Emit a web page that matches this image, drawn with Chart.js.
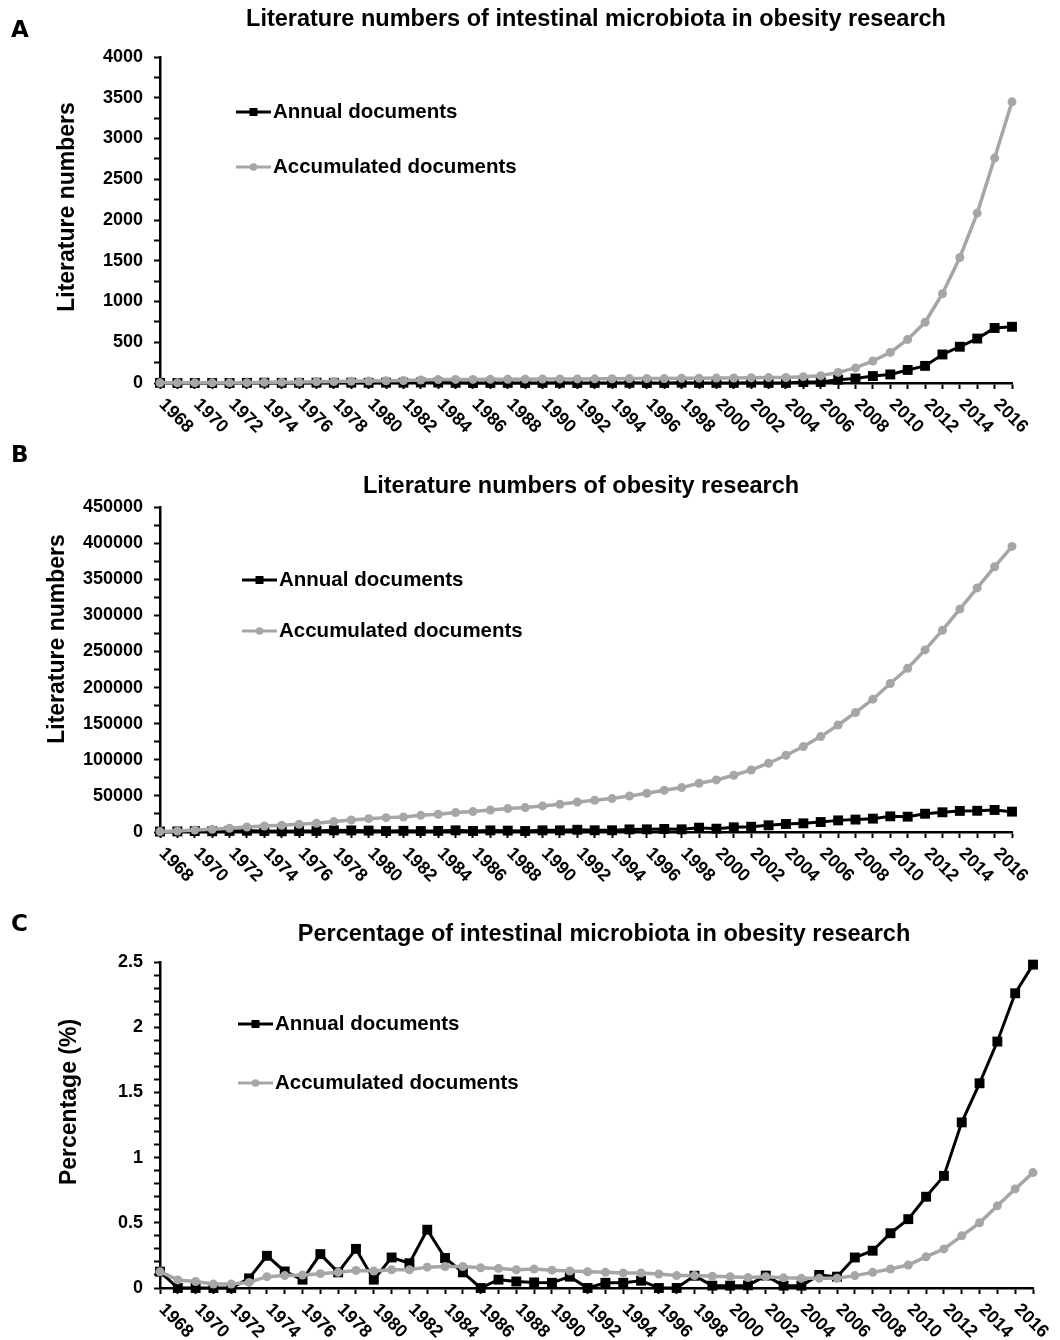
<!DOCTYPE html>
<html>
<head>
<meta charset="utf-8">
<title>Intestinal microbiota in obesity research</title>
<script src="https://cdn.jsdelivr.net/npm/chart.js@4.4.1/dist/chart.umd.min.js"></script>
<style>
    body { margin: 0; background: #fff; }
    #page { position: relative; width: 1060px; height: 1340px; }
    canvas { position: absolute; left: 0; }
</style>
</head>
<body>
<div id="page">
    <canvas id="chart-a" width="1060" height="440" style="top:0px"></canvas>
    <canvas id="chart-b" width="1060" height="455" style="top:440px"></canvas>
    <canvas id="chart-c" width="1060" height="445" style="top:895px"></canvas>
</div>
<script>
// Publication years (one point per year)
const years = ['1968','1969','1970','1971','1972','1973','1974','1975','1976','1977',
    '1978','1979','1980','1981','1982','1983','1984','1985','1986','1987',
    '1988','1989','1990','1991','1992','1993','1994','1995','1996','1997',
    '1998','1999','2000','2001','2002','2003','2004','2005','2006','2007',
    '2008','2009','2010','2011','2012','2013','2014','2015','2016','2017'];
// Years written under the x axis
const yearTicks = ['1968','1970','1972','1974','1976','1978','1980','1982','1984','1986',
    '1988','1990','1992','1994','1996','1998','2000','2002','2004','2006',
    '2008','2010','2012','2014','2016'];

// A - intestinal microbiota in obesity research
const microbiotaAnnual = [2, 0, 0, 0, 0, 2, 4, 2, 2, 4,
    2, 4, 2, 4, 3, 6, 5, 2, 0, 1,
    1, 1, 1, 2, 0, 1, 1, 2, 0, 0,
    4, 1, 1, 1, 4, 1, 1, 11, 12, 40,
    55, 85, 105, 160, 210, 350, 445, 545, 675, 690];
const microbiotaAccumulated = [2, 2, 2, 2, 2, 4, 8, 10, 12, 16,
    18, 22, 24, 28, 31, 37, 42, 44, 44, 45,
    46, 47, 48, 50, 50, 51, 52, 54, 54, 54,
    58, 59, 60, 61, 65, 66, 67, 78, 90, 130,
    185, 270, 375, 535, 745, 1095, 1540, 2085, 2760, 3450];

// B - obesity research
const obesityAnnual = [600, 800, 1300, 1000, 1500, 1700, 1400, 1000, 1300, 1500,
    2300, 2200, 1900, 1400, 1600, 1400, 1500, 2300, 1400, 2200,
    1900, 1400, 2300, 2300, 3100, 2400, 2400, 3600, 3700, 4200,
    3700, 6000, 4600, 6500, 7300, 9300, 11100, 12000, 13800, 16100,
    17200, 18500, 21700, 21200, 25300, 27300, 29200, 29400, 30500, 28200];
const obesityAccumulated = [600, 1400, 2700, 3700, 5200, 6900, 8300, 9300, 10600, 12100,
    14400, 16600, 18500, 19900, 20800, 23100, 24600, 26900, 28300, 30500,
    32400, 33800, 36100, 38400, 41500, 43900, 46300, 49900, 53600, 57800,
    61500, 67500, 72100, 78600, 85900, 95200, 106300, 118300, 132100, 148200,
    165400, 183900, 205600, 226800, 252100, 279400, 308600, 338000, 367200, 395400];

// C - percentage of microbiota papers in obesity research
const percentAnnual = [0.125, 0, 0, 0, 0, 0.074, 0.247, 0.127, 0.064, 0.26,
    0.12, 0.30, 0.064, 0.234, 0.19, 0.447, 0.23, 0.12, 0, 0.064,
    0.05, 0.043, 0.04, 0.087, 0, 0.04, 0.04, 0.056, 0, 0,
    0.094, 0.018, 0.018, 0.02, 0.095, 0.018, 0.018, 0.1, 0.087, 0.234,
    0.286, 0.42, 0.528, 0.70, 0.86, 1.27, 1.57, 1.89, 2.26, 2.48];
const percentAccumulated = [0.125, 0.062, 0.05, 0.03, 0.03, 0.043, 0.087, 0.095, 0.1, 0.11,
    0.12, 0.135, 0.13, 0.14, 0.14, 0.16, 0.165, 0.165, 0.155, 0.15,
    0.14, 0.145, 0.137, 0.13, 0.125, 0.12, 0.115, 0.115, 0.107, 0.095,
    0.095, 0.09, 0.087, 0.08, 0.087, 0.078, 0.074, 0.074, 0.074, 0.095,
    0.12, 0.146, 0.176, 0.24, 0.30, 0.40, 0.50, 0.63, 0.76, 0.885];

const seriesNames = ['Annual documents', 'Accumulated documents'];

const FONT = '"Liberation Sans", Arial, sans-serif';
const BLACK = '#000000';
const GREY = '#a6a6a6';

// Layout of each panel, in pixels relative to its canvas
const panels = [
    {
        canvas: 'chart-a', letter: 'A', letterY: 31,
        title: 'Literature numbers of intestinal microbiota in obesity research', titleX: 596, titleY: 20,
        yTitle: 'Literature numbers', yTitleX: 68, yTitleY: 207,
        legendX: 236, legendY: [112, 167],
        top: 57, bottom: 383, right: 1012,
        yMax: 4000, yStep: 250, yLabelStep: 500,
        annual: microbiotaAnnual, accumulated: microbiotaAccumulated
    },
    {
        canvas: 'chart-b', letter: 'B', letterY: 16,
        title: 'Literature numbers of obesity research', titleX: 581, titleY: 47,
        yTitle: 'Literature numbers', yTitleX: 58, yTitleY: 199,
        legendX: 242, legendY: [140, 191],
        top: 67, bottom: 392, right: 1012,
        yMax: 450000, yStep: 25000, yLabelStep: 50000,
        annual: obesityAnnual, accumulated: obesityAccumulated
    },
    {
        canvas: 'chart-c', letter: 'C', letterY: 30,
        title: 'Percentage of intestinal microbiota in obesity research', titleX: 604, titleY: 40,
        yTitle: 'Percentage (%)', yTitleX: 70, yTitleY: 207,
        legendX: 238, legendY: [129, 188],
        top: 67, bottom: 393, right: 1033,
        yMax: 2.5, yStep: 0.1, yLabelStep: 0.5,
        annual: percentAnnual, accumulated: percentAccumulated
    }
];

// Draw the panel letter, title, y title, legend and slanted year labels
const panelTextPlugin = {
    id: 'panelText',
    afterDraw(chart) {
        const p = chart.options.plugins.panelText.panel;
        const ctx = chart.ctx;
        ctx.save();
        ctx.fillStyle = BLACK;

        // panel letter
        ctx.font = 'bold 23px "DejaVu Sans"';
        ctx.textAlign = 'left';
        ctx.textBaseline = 'middle';
        ctx.fillText(p.letter, 11, p.letterY);

        // title
        ctx.font = 'bold 23.5px ' + FONT;
        ctx.textAlign = 'center';
        ctx.fillText(p.title, p.titleX, p.titleY);

        // y axis title
        ctx.save();
        ctx.translate(p.yTitleX, p.yTitleY);
        ctx.rotate(-Math.PI / 2);
        ctx.font = 'bold 23px ' + FONT;
        ctx.fillText(p.yTitle, 0, 0);
        ctx.restore();

        // legend
        const styles = [
            {color: BLACK, marker: 'rect'},
            {color: GREY, marker: 'circle'}
        ];
        ctx.font = 'bold 20.5px ' + FONT;
        ctx.textAlign = 'left';
        styles.forEach((s, i) => {
            const y = p.legendY[i];
            ctx.strokeStyle = s.color;
            ctx.fillStyle = s.color;
            ctx.lineWidth = 3;
            ctx.beginPath();
            ctx.moveTo(p.legendX, y);
            ctx.lineTo(p.legendX + 35, y);
            ctx.stroke();
            if (s.marker === 'rect') {
                ctx.fillRect(p.legendX + 13.5, y - 4, 8, 8);
            } else {
                ctx.beginPath();
                ctx.arc(p.legendX + 17.5, y, 3.8, 0, Math.PI * 2);
                ctx.fill();
            }
            ctx.fillStyle = BLACK;
            ctx.fillText(seriesNames[i], p.legendX + 37, y);
        });

        // year labels, slanted down to the right
        const xScale = chart.scales.x;
        const bottom = chart.chartArea.bottom;
        ctx.font = 'bold 18px ' + FONT;
        ctx.textAlign = 'center';
        years.forEach((year, i) => {
            if (!yearTicks.includes(year)) return;
            const x = xScale.getPixelForValue(i);
            ctx.save();
            ctx.translate(x + 16, bottom + 33);
            ctx.rotate(Math.PI / 4);
            ctx.fillText(year, 0, 0);
            ctx.restore();
        });
        ctx.restore();
    }
};

// Build one panel chart
function makeChart(p) {
    const canvas = document.getElementById(p.canvas);
    const height = canvas.height;
    return new Chart(canvas.getContext('2d'), {
        type: 'line',
        data: {
            labels: years,
            datasets: [{
                label: seriesNames[0],
                data: p.annual,
                borderColor: BLACK,
                backgroundColor: BLACK,
                borderWidth: 3,
                pointStyle: 'rect',
                pointRadius: 7,
                pointBorderWidth: 0,
                tension: 0,
                clip: false,
                order: 2
            },
            {
                label: seriesNames[1],
                data: p.accumulated,
                borderColor: GREY,
                backgroundColor: GREY,
                borderWidth: 3.5,
                pointStyle: 'circle',
                pointRadius: 4.5,
                pointBorderWidth: 0,
                tension: 0,
                clip: false,
                order: 1
            }]
        },
        options: {
            responsive: false,
            animation: false,
            layout: {
                padding: {top: p.top, right: canvas.width - p.right, left: 0, bottom: 0}
            },
            plugins: {
                legend: {display: false},
                title: {display: false},
                tooltip: {enabled: false},
                panelText: {panel: p}
            },
            scales: {
                x: {
                    offset: false,
                    grid: {
                        display: true,
                        drawOnChartArea: false,
                        drawTicks: true,
                        tickLength: 6,
                        tickColor: BLACK,
                        tickWidth: 2
                    },
                    border: {color: BLACK, width: 2.5},
                    ticks: {display: false, autoSkip: false},
                    afterFit(scale) {
                        scale.height = height - p.bottom;
                    }
                },
                y: {
                    min: 0,
                    max: p.yMax,
                    grid: {
                        display: true,
                        drawOnChartArea: false,
                        drawTicks: true,
                        tickLength: 6,
                        tickColor: BLACK,
                        tickWidth: 2
                    },
                    border: {color: BLACK, width: 2.5},
                    ticks: {
                        stepSize: p.yStep,
                        autoSkip: false,
                        padding: 11,
                        color: BLACK,
                        font: {family: FONT, size: 18, weight: 'bold'},
                        callback: function(value) {
                            const n = value / p.yLabelStep;
                            if (Math.abs(n - Math.round(n)) > 1e-6) return '';
                            return String(Math.round(value * 10) / 10);
                        }
                    },
                    afterFit(scale) {
                        scale.width = 160;
                    }
                }
            }
        },
        plugins: [panelTextPlugin]
    });
}

document.addEventListener('DOMContentLoaded', function () {
    for (const p of panels) {
        makeChart(p);
    }
});
</script>
</body>
</html>
